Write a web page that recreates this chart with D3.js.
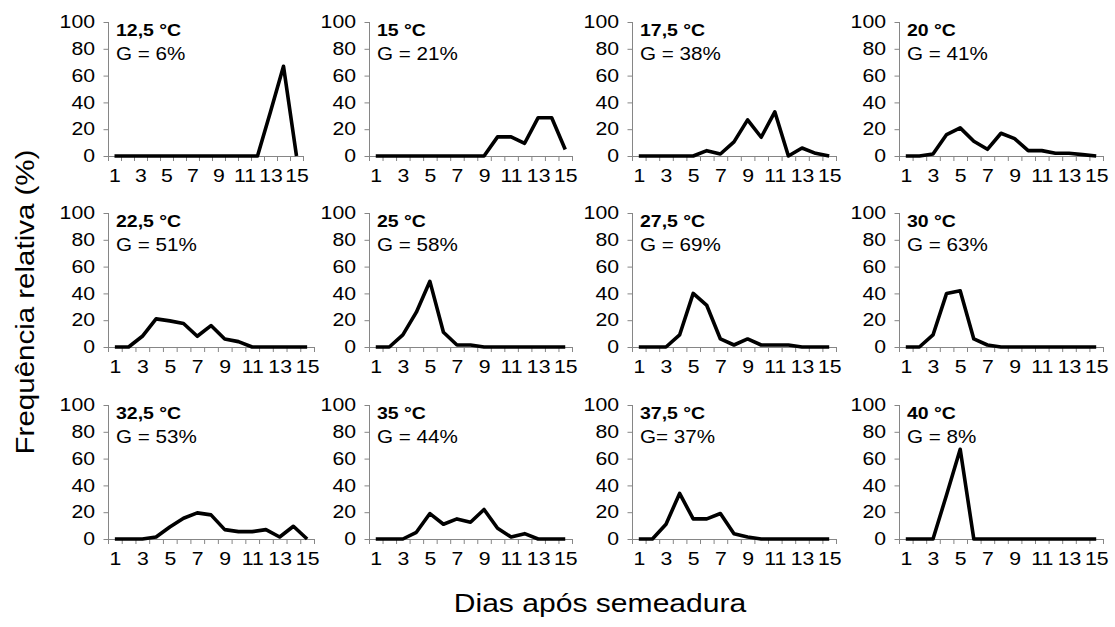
<!DOCTYPE html>
<html>
<head>
<meta charset="utf-8">
<script src="https://cdn.jsdelivr.net/npm/d3@7/dist/d3.min.js"></script>
<style>
  body { margin: 0; background: #fff; }
  svg text { font-family: "Liberation Sans", Arial, sans-serif; fill: #000; }
</style>
</head>
<body>
<svg id="chart" width="1115" height="627"></svg>
<script>
// dias e rótulos
const days = [1, 2, 3, 4, 5, 6, 7, 8, 9, 10, 11, 12, 13, 14, 15];
const xLabels = [1, 3, 5, 7, 9, 11, 13, 15];
const yTicks = [0, 20, 40, 60, 80, 100];
const tempLabels = ["12,5 °C", "15 °C", "17,5 °C", "20 °C",
                    "22,5 °C", "25 °C", "27,5 °C", "30 °C",
                    "32,5 °C", "35 °C", "37,5 °C", "40 °C"];
const germLabels = ["G = 6%", "G = 21%", "G = 38%", "G = 41%",
                    "G = 51%", "G = 58%", "G = 69%", "G = 63%",
                    "G = 53%", "G = 44%", "G= 37%", "G = 8%"];

// frequência relativa (%) por dia
const f12_5 = [0, 0, 0, 0, 0, 0, 0, 0, 0, 0, 0, 0, 33, 67, 0];
const f15   = [0, 0, 0, 0, 0, 0, 0, 0, 0, 14.3, 14.3, 9.5, 28.6, 28.6, 4.8];
const f17_5 = [0, 0, 0, 0, 0, 4, 1.5, 10.5, 27, 14, 33, 0, 6, 2, 0];
const f20   = [0, 0, 1.5, 16, 21, 11, 5, 17, 13, 4, 4, 2, 2, 1, 0];
const f22_5 = [0, 0, 8, 21, 19.5, 17.5, 8, 16, 6, 4, 0, 0, 0, 0, 0];
const f25   = [0, 0, 9, 26, 49, 11, 1.5, 1.5, 0, 0, 0, 0, 0, 0, 0];
const f27_5 = [0, 0, 0, 9, 40, 31, 6, 1.5, 6, 1.5, 1.5, 1.5, 0, 0, 0];
const f30   = [0, 0, 9, 40, 42, 6, 1.5, 0, 0, 0, 0, 0, 0, 0, 0];
const f32_5 = [0, 0, 0, 1.5, 9, 15.5, 19.5, 18, 7, 5.5, 5.5, 7, 1.5, 9.5, 0];
const f35   = [0, 0, 0, 5, 19, 11, 15, 12.5, 22, 8, 1.5, 4, 0, 0, 0];
const f37_5 = [0, 0, 11, 34, 15, 15, 19, 4, 1.5, 0, 0, 0, 0, 0, 0];
const f40   = [0, 0, 0, 33, 67, 0, 0, 0, 0, 0, 0, 0, 0, 0, 0];
const series = [f12_5, f15, f17_5, f20, f22_5, f25, f27_5, f30, f32_5, f35, f37_5, f40];

// layout of the small multiples
const colX = [108, 369, 632, 899];
const rowTop = [22, 213, 405];
const plotH = 134;
const plotW = [195, 203, 204, 204, 206, 203, 204, 204, 206, 203, 204, 204];
const sx = 1.18;   // text in the source image is horizontally stretched
const axisColor = "#868686";

const svg = d3.select("#chart");

series.forEach(function(vals, i) {
  const col = i % 4, row = Math.floor(i / 4);
  const w = plotW[i];
  const g = svg.append("g")
    .attr("transform", "translate(" + colX[col] + "," + rowTop[row] + ")");

  const x = d3.scaleLinear().domain([0.5, 15.5]).range([0, w]);
  const y = d3.scaleLinear().domain([0, 100]).range([plotH, 0]);

  // y axis
  const yAx = g.append("g")
    .call(d3.axisLeft(y).tickValues(yTicks).tickSize(5).tickPadding(6));
  yAx.select(".domain").attr("stroke", axisColor).attr("d", "M0.5," + plotH + "V0");
  yAx.selectAll(".tick line").attr("stroke", axisColor).attr("transform", "translate(0.5,0)");
  yAx.selectAll(".tick text")
    .attr("font-size", 18).attr("font-family", null)
    .attr("transform", "scale(" + sx + ",1)");

  // x axis: tick marks between categories
  const bounds = days.map(d => d - 0.5).concat([15.5]);
  const xAx = g.append("g")
    .attr("transform", "translate(0," + plotH + ")")
    .call(d3.axisBottom(x).tickValues(bounds).tickSize(5).tickFormat(""));
  xAx.select(".domain").attr("stroke", axisColor).attr("d", "M0,0.5H" + w);
  xAx.selectAll(".tick line").attr("stroke", axisColor);

  // x labels on odd days
  const xLab = g.append("g")
    .attr("transform", "translate(0," + plotH + ")")
    .call(d3.axisBottom(x).tickValues(xLabels).tickSize(0).tickPadding(13));
  xLab.select(".domain").remove();
  xLab.selectAll(".tick text")
    .attr("font-size", 18).attr("font-family", null)
    .attr("transform", "scale(" + sx + ",1)");

  // line
  const line = d3.line()
    .x((d, k) => x(days[k]))
    .y(d => y(d));
  g.append("path")
    .datum(vals)
    .attr("d", line)
    .attr("fill", "none")
    .attr("stroke", "#000")
    .attr("stroke-width", 3.6)
    .attr("stroke-linejoin", "round");

  // annotations
  g.append("text")
    .attr("transform", "translate(8,14) scale(" + sx + ",1)")
    .attr("font-size", 16.5).attr("font-weight", "bold")
    .text(tempLabels[i]);
  g.append("text")
    .attr("transform", "translate(8,38) scale(" + sx + ",1)")
    .attr("font-size", 17.5)
    .text(germLabels[i]);
});

// axis titles
svg.append("text")
  .attr("transform", "translate(600,612) scale(" + sx + ",1)")
  .attr("text-anchor", "middle")
  .attr("font-size", 25.5)
  .text("Dias após semeadura");

svg.append("text")
  .attr("transform", "translate(34,302) rotate(-90) scale(" + sx + ",1)")
  .attr("text-anchor", "middle")
  .attr("font-size", 25)
  .text("Frequência relativa (%)");
</script>
</body>
</html>
